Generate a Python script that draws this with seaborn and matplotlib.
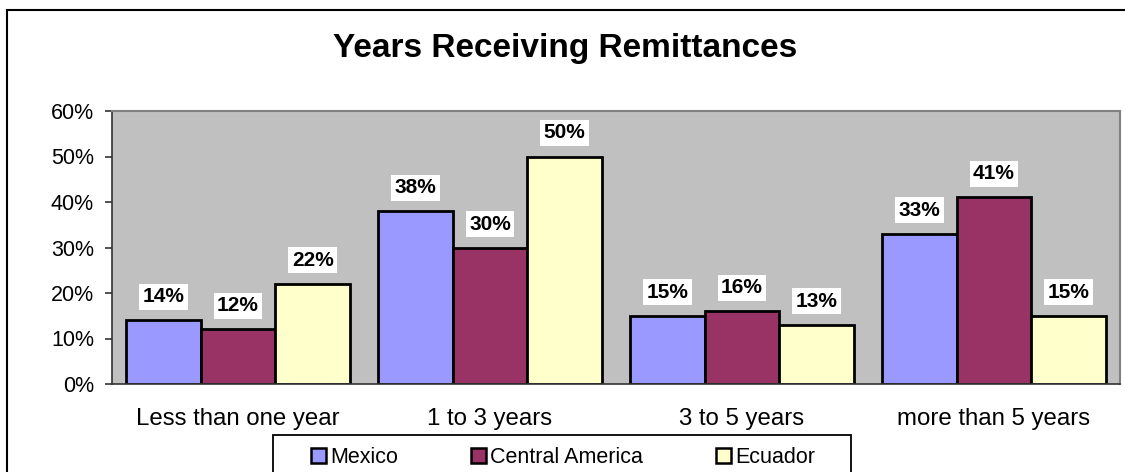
import matplotlib
matplotlib.use("Agg")
import matplotlib.pyplot as plt
from matplotlib.patches import Rectangle, Patch
import seaborn as sns
import pandas as pd

categories = ["Less than one year", "1 to 3 years", "3 to 5 years", "more than 5 years"]
regions = ["Mexico", "Central America", "Ecuador"]
mexico = [14, 38, 15, 33]
central_america = [12, 30, 16, 41]
ecuador = [22, 50, 13, 15]
colors = ["#9999FF", "#993366", "#FFFFCC"]

rows = []
for reg, vals in zip(regions, [mexico, central_america, ecuador]):
    for cat, v in zip(categories, vals):
        rows.append({"category": cat, "region": reg, "value": v})
df = pd.DataFrame(rows)

sns.set_style("white")
plt.rcParams["font.family"] = ["Liberation Sans", "DejaVu Sans"]
plt.rcParams["text.color"] = "black"
plt.rcParams["xtick.color"] = "black"
plt.rcParams["ytick.color"] = "black"

fig = plt.figure(figsize=(11.25, 4.72), dpi=100)
ax = fig.add_axes([112 / 1125, 1 - 384 / 472, 1008 / 1125, 273 / 472])

sns.barplot(data=df, x="category", y="value", hue="region", order=categories,
            hue_order=regions, palette=colors, width=0.89, saturation=1,
            edgecolor="black", linewidth=2, ax=ax, legend=False)

ax.set_facecolor("#C0C0C0")
ax.set_xlim(-0.5, 3.5)
ax.set_ylim(0, 60)
ax.set_yticks(range(0, 61, 10))
ax.set_yticklabels([f"{t}%" for t in range(0, 61, 10)], fontsize=15.5)
ax.set_xticks(range(len(categories)))
ax.set_xticklabels(categories, fontsize=17.3)
ax.set_xticks([-0.5, 0.5, 1.5, 2.5, 3.5], minor=True)
ax.tick_params(axis="x", which="major", length=0, pad=17)
ax.tick_params(axis="x", which="minor", length=5.5, width=1.2, color="#333333", direction="out")
ax.tick_params(axis="y", length=5, width=1.2, color="#333333", direction="out", pad=8, left=True)
ax.set_xlabel("")
ax.set_ylabel("")

for side in ["top", "right"]:
    ax.spines[side].set_color("#808080")
    ax.spines[side].set_linewidth(1.5)
for side in ["left", "bottom"]:
    ax.spines[side].set_color("#333333")
    ax.spines[side].set_linewidth(1.2)

for cont in ax.containers:
    for bar in cont:
        h = bar.get_height()
        ax.annotate(f"{h:.0f}%", (bar.get_x() + bar.get_width() / 2, h),
                    xytext=(0, 14), textcoords="offset pixels", ha="center", va="bottom",
                    fontsize=15, fontweight="bold",
                    bbox=dict(facecolor="white", edgecolor="none", pad=2.5))

fig.text(0.502, 1 - 49 / 472, "Years Receiving Remittances", ha="center", va="center",
         fontsize=24, fontweight="bold")

# legend box drawn separately, entries placed inside it
fig.patches.append(Rectangle((273 / 1125, -0.1), 578 / 1125, 0.1 + 1 - 435 / 472,
                             transform=fig.transFigure, facecolor="white",
                             edgecolor="black", linewidth=1.3))
handles = [Patch(facecolor=c, edgecolor="black", linewidth=1.8) for c in colors]
fig.legend(handles, regions, loc="upper left", bbox_to_anchor=(311 / 1125, 1 - 447 / 472),
           ncol=3, frameon=False, fontsize=15.5,
           handlelength=0.68, handleheight=0.68, handletextpad=0.2, columnspacing=3.4,
           borderpad=0, borderaxespad=0)

fig.patches.append(Rectangle((7 / 1125, -0.1), 1.2, 1.1 - 10 / 472, transform=fig.transFigure,
                             fill=False, edgecolor="black", linewidth=1.5))

fig.savefig("out.png", dpi=100)
